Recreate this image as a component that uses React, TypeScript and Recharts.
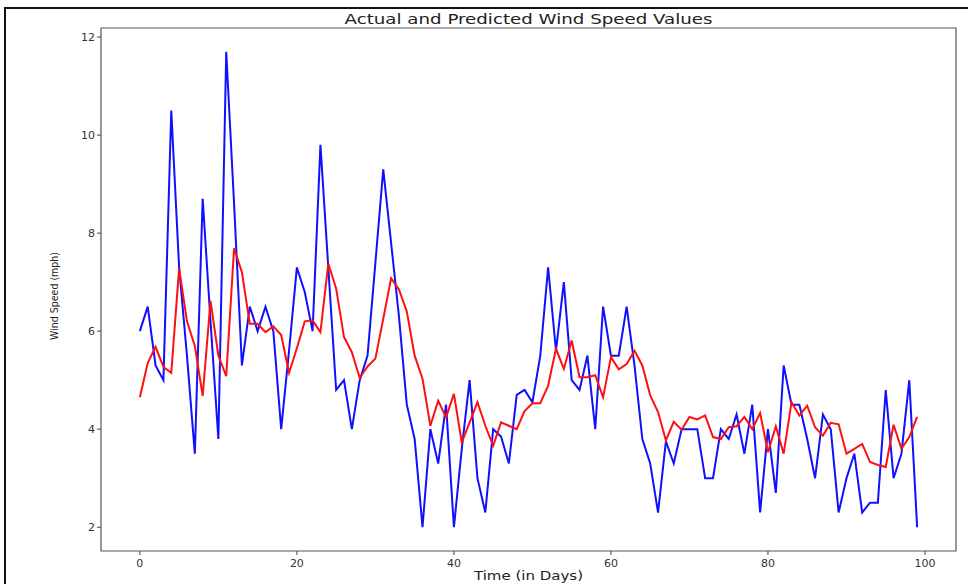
import React from 'react';
import { LineChart, Line, XAxis, YAxis, ReferenceArea } from 'recharts';

// Day index for each observation
const days: number[] = Array.from({ length: 100 }, (_, i) => i);

// Observed wind speed (mph)
const actualSpeed: number[] = [
  6.0, 6.5, 5.3, 5.0, 10.5, 7.3, 5.5, 3.5, 8.7, 6.2,
  3.8, 11.7, 8.6, 5.3, 6.5, 6.0, 6.5, 6.0, 4.0, 5.6,
  7.3, 6.8, 6.0, 9.8, 7.3, 4.8, 5.0, 4.0, 5.0, 5.5,
  7.4, 9.3, 7.8, 6.3, 4.5, 3.8, 2.0, 4.0, 3.3, 4.5,
  2.0, 3.6, 5.0, 3.0, 2.3, 4.0, 3.85, 3.3, 4.7, 4.8,
  4.55, 5.5, 7.3, 5.6, 7.0, 5.0, 4.8, 5.5, 4.0, 6.5,
  5.5, 5.5, 6.5, 5.3, 3.8, 3.3, 2.3, 3.75, 3.3, 4.0,
  4.0, 4.0, 3.0, 3.0, 4.0, 3.8, 4.3, 3.5, 4.5, 2.3,
  4.0, 2.7, 5.3, 4.5, 4.5, 3.8, 3.0, 4.3, 4.0, 2.3,
  3.0, 3.5, 2.3, 2.5, 2.5, 4.8, 3.0, 3.5, 5.0, 2.0,
];

// Model prediction (mph)
const predictedSpeed: number[] = [
  4.65, 5.35, 5.68, 5.27, 5.15, 7.28, 6.2, 5.7, 4.68, 6.62,
  5.5, 5.08, 7.69, 7.2, 6.15, 6.15, 5.98, 6.1, 5.92, 5.15,
  5.65, 6.2, 6.22, 5.98, 7.38, 6.87, 5.88, 5.57, 5.05, 5.28,
  5.44, 6.25, 7.08, 6.85, 6.4, 5.5, 5.03, 4.07, 4.58, 4.24,
  4.72, 3.73, 4.14, 4.55, 4.07, 3.66, 4.14, 4.07, 4.0, 4.37,
  4.53, 4.53, 4.89, 5.64, 5.23, 5.81, 5.06, 5.06, 5.1, 4.65,
  5.47, 5.22, 5.33, 5.6, 5.3, 4.69, 4.35, 3.77, 4.15, 3.99,
  4.25, 4.2, 4.28, 3.84, 3.8, 4.04, 4.06, 4.25, 4.0, 4.33,
  3.53, 4.06, 3.5, 4.55, 4.28, 4.48, 4.04, 3.87, 4.13, 4.1,
  3.5, 3.6, 3.7, 3.33, 3.27, 3.23, 4.09, 3.6, 3.84, 4.25,
];

const xTicks: number[] = [0, 20, 40, 60, 80, 100];
const yTicks: number[] = [2, 4, 6, 8, 10, 12];

const data = days.map((d, i) => ({ day: d, actual: actualSpeed[i], predicted: predictedSpeed[i] }));

const X_DOMAIN: [number, number] = [-4.95, 103.95];
const Y_DOMAIN: [number, number] = [1.515, 12.185];

const font = '"DejaVu Sans", sans-serif';
const tickStyle = { fill: '#333', fontSize: 11, fontFamily: font };

export default function App() {
  return (
    <div style={{ position: 'absolute', left: 0, top: 0, width: 968, height: 584, background: '#fff', overflow: 'hidden' }}>
      <div style={{ position: 'absolute', left: 4, top: 7, width: 980, height: 600, borderTop: '2px solid #111', borderLeft: '2px solid #111' }} />
      <div style={{ position: 'absolute', left: 101, width: 855, top: 11, textAlign: 'center', fontFamily: font, fontSize: 14, color: '#222', transform: 'scaleX(1.3)', transformOrigin: '427.5px 0' }}>
        Actual and Predicted Wind Speed Values
      </div>
      <div style={{ position: 'absolute', left: 101, width: 855, top: 569, textAlign: 'center', fontFamily: font, fontSize: 12, color: '#222', transform: 'scaleX(1.25)', transformOrigin: '427.5px 0' }}>
        Time (in Days)
      </div>
      <div style={{ position: 'absolute', left: 54, top: 296, width: 0, height: 0 }}>
        <div style={{ position: 'absolute', transform: 'translate(-50%, -50%) rotate(-90deg)', whiteSpace: 'nowrap', fontFamily: '"DejaVu Sans Condensed", "DejaVu Sans", sans-serif', fontSize: 10.5, color: '#222' }}>
          Wind Speed (mph)
        </div>
      </div>
      <LineChart width={968} height={584} data={data} margin={{ top: 28, right: 12, bottom: 8, left: 55 }}>
        <XAxis
          dataKey="day"
          type="number"
          domain={X_DOMAIN}
          ticks={xTicks}
          allowDataOverflow
          height={25}
          axisLine={false}
          tickSize={4}
          tickMargin={4}
          tickLine={{ stroke: '#444' }}
          tick={tickStyle}
        />
        <YAxis
          type="number"
          domain={Y_DOMAIN}
          ticks={yTicks}
          allowDataOverflow
          width={46}
          axisLine={false}
          tickSize={4}
          tickMargin={2}
          tickLine={{ stroke: '#444' }}
          tick={tickStyle}
        />
        <ReferenceArea x1={X_DOMAIN[0]} x2={X_DOMAIN[1]} y1={Y_DOMAIN[0]} y2={Y_DOMAIN[1]} fill="none" stroke="#555" strokeWidth={1.2} fillOpacity={0} ifOverflow="visible" />
        <Line type="linear" dataKey="actual" stroke="#1010ff" strokeWidth={2} dot={false} isAnimationActive={false} />
        <Line type="linear" dataKey="predicted" stroke="#ff1010" strokeWidth={2} dot={false} isAnimationActive={false} />
      </LineChart>
    </div>
  );
}
